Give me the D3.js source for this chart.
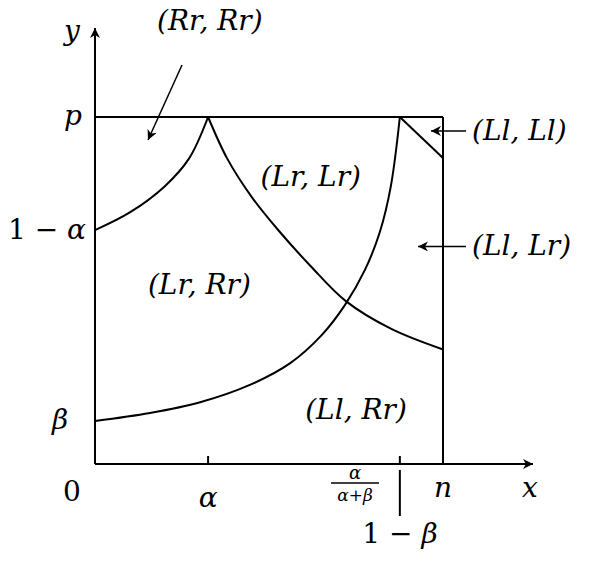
<!DOCTYPE html><html><head><meta charset="utf-8">
<script src="https://cdn.jsdelivr.net/npm/d3@7"></script>
<style>body{margin:0;background:#fff}text{font-family:"DejaVu Serif",serif;font-size:28px;fill:#000}</style>
</head><body><svg id="c" width="592" height="571"></svg><script>
const alpha=0.325, beta=0.124, n=1, p=1;
const curveLeft=[[0,0.674],[0.1,0.725],[0.2,0.8],[0.27,0.88],[0.325,1]];
const curveDown=[[0.325,1],[0.38,0.88],[0.45,0.77],[0.53,0.67],[0.62,0.57],[0.72,0.47],[0.85,0.39],[1,0.33]];
const curveUp=[[0,0.124],[0.158,0.147],[0.302,0.178],[0.445,0.228],[0.56,0.29],[0.65,0.37],[0.718,0.458],[0.776,0.56],[0.819,0.67],[0.85,0.8],[0.876,1]];
const segLl=[[0.876,1],[1,0.882]];
const regions=[{t:"(Rr, Rr)",x:0.33,y:1.25},{t:"(Lr, Lr)",x:0.62,y:0.8},{t:"(Lr, Rr)",x:0.3,y:0.49},{t:"(Ll, Rr)",x:0.75,y:0.13}];
const svg=d3.select("#c");
const X=d3.scaleLinear().domain([0,1]).range([95,443]);
const Y=d3.scaleLinear().domain([0,1]).range([464,117]);
svg.append("defs").append("marker").attr("id","a").attr("viewBox","0 0 10 10").attr("refX",10).attr("refY",5)
 .attr("markerWidth",10).attr("markerHeight",10).attr("markerUnits","userSpaceOnUse").attr("orient","auto")
 .append("path").attr("d","M0,0L10,5L0,10L3,5Z");
const ln=(x1,y1,x2,y2,m)=>{const l=svg.append("line").attr("x1",x1).attr("y1",y1).attr("x2",x2).attr("y2",y2).attr("stroke","#000").attr("stroke-width",2);if(m)l.attr("marker-end","url(#a)");return l;};
ln(X(0),Y(0),533,Y(0),1);ln(X(0),Y(0),X(0),28,1);
ln(X(0),Y(p),X(n),Y(p));ln(X(n),Y(p),X(n),Y(0));
ln(X(alpha),Y(0),X(alpha),Y(0)-8);ln(X(1-beta),Y(0),X(1-beta),Y(0)-8);
ln(X(1-beta),Y(0)+6,X(1-beta),Y(0)+52);
const line=d3.line().x(d=>X(d[0])).y(d=>Y(d[1])).curve(d3.curveCatmullRom);
[curveLeft,curveDown,curveUp,segLl].forEach(c=>svg.append("path").attr("d",line(c)).attr("fill","none").attr("stroke","#000").attr("stroke-width",2));
const tx=(s,x,y,a="middle",sz)=>{const t=svg.append("text").attr("x",x).attr("y",y).attr("text-anchor",a).style("font-style","italic").text(s);if(sz)t.style("font-size",sz+"px");return t;};
tx("y",72,40);tx("p",73,Y(p)+8);tx("β",60,Y(beta)+8);tx("0",72,Y(0)+37).style("font-style","normal");
const t1=svg.append("text").attr("x",86).attr("y",Y(1-alpha)+9).attr("text-anchor","end");t1.append("tspan").text("1 − ");t1.append("tspan").style("font-style","italic").text("α");
tx("α",X(alpha),Y(0)+43);tx("n",X(n),Y(0)+33);tx("x",530,Y(0)+33);
tx("α",355,Y(0)+15,"middle",18);ln(331,Y(0)+19,379,Y(0)+19).attr("stroke-width",1.3);tx("α+β",355,Y(0)+37,"middle",17);
const t2=svg.append("text").attr("x",400).attr("y",Y(0)+79).attr("text-anchor","middle");t2.append("tspan").text("1 − ");t2.append("tspan").style("font-style","italic").text("β");
regions.forEach(r=>tx(r.t,X(r.x),Y(r.y)));
tx("(Ll, Ll)",472,Y(0.96)+9,"start");tx("(Ll, Lr)",472,Y(0.627)+9,"start");
ln(182,65,148,140,1).attr("stroke-width",1.5);
ln(466,Y(0.96),431,Y(0.96),1).attr("stroke-width",1.5);
ln(466,Y(0.627),418,Y(0.627),1).attr("stroke-width",1.5);
</script></body></html>
